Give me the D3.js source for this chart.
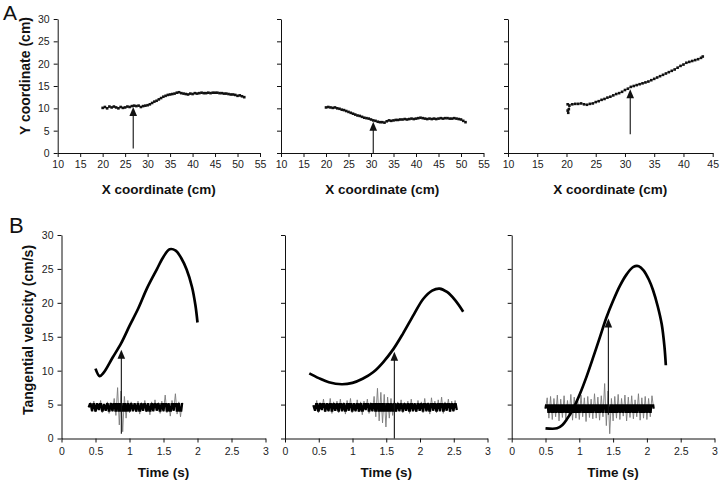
<!DOCTYPE html>
<html>
<head>
<meta charset="utf-8">
<script src="https://cdn.jsdelivr.net/npm/d3@7"></script>
<style>
  body { margin: 0; background: #fff; }
  text { font-family: "Liberation Sans", Arial, Helvetica, sans-serif; }
</style>
</head>
<body>
<script>
var width = 720;
var height = 481;

// ---- data ----
// A: hand path (x, y in cm), one list per trial
var path1 = [[20,10.1],[20.5,10.3],[21,10.0],[21.5,10.4],[22,10.2],[22.5,10.4],[23,10.2],[23.5,10.0],[24,10.3],[24.5,10.1],
  [25,10.2],[25.5,10.4],[26,10.3],[26.5,10.5],[27,10.6],[27.5,10.5],[28,10.6],[28.5,10.3],[29,10.5],[29.5,10.6],
  [30,10.7],[30.5,10.9],[31,11.2],[31.5,11.5],[32,11.7],[32.5,12.0],[33,12.3],[33.5,12.6],[34,12.8],[34.5,13.0],
  [35,13.1],[35.5,13.2],[36,13.3],[36.5,13.5],[37,13.6],[37.5,13.4],[38,13.3],[38.5,13.2],[39,13.1],[39.5,13.3],
  [40,13.2],[40.5,13.4],[41,13.3],[41.5,13.4],[42,13.5],[42.5,13.4],[43,13.4],[43.5,13.5],[44,13.4],[44.5,13.5],
  [45,13.5],[45.5,13.5],[46,13.4],[46.5,13.4],[47,13.3],[47.5,13.3],[48,13.2],[48.5,13.1],[49,13.1],[49.5,13.0],
  [50,12.8],[50.5,12.9],[51,12.7],[51.5,12.5]];
var path2 = [[20,10.2],[20.5,10.3],[21,10.2],[21.5,10.1],[22,10.2],[22.5,10.0],[23,9.9],[23.5,9.7],[24,9.6],[24.5,9.4],
  [25,9.2],[25.5,9.0],[26,8.8],[26.5,8.6],[27,8.4],[27.5,8.3],[28,8.1],[28.5,7.9],[29,7.8],[29.5,7.7],
  [30,7.5],[30.5,7.3],[31,7.2],[31.5,7.0],[32,6.9],[32.5,6.9],[33,6.8],[33.5,7.1],[34,7.3],[34.5,7.2],
  [35,7.3],[35.5,7.4],[36,7.4],[36.5,7.5],[37,7.5],[37.5,7.6],[38,7.5],[38.5,7.6],[39,7.7],[39.5,7.6],
  [40,7.7],[40.5,7.8],[41,7.9],[41.5,7.8],[42,7.7],[42.5,7.6],[43,7.7],[43.5,7.6],[44,7.7],[44.5,7.6],
  [45,7.7],[45.5,7.8],[46,7.7],[46.5,7.8],[47,7.8],[47.5,7.7],[48,7.7],[48.5,7.8],[49,7.7],[49.5,7.6],
  [50,7.5],[50.5,7.2],[51,6.9]];
var path3 = [[20.2,9.5],[20.3,9.0],[20.4,9.8],[20.5,10.6],[20.2,10.9],[21,10.9],[21.5,11.0],[22,11.0],[22.5,11.1],[23,10.9],
  [23.5,10.8],[24,11.0],[24.5,11.1],[25,11.4],[25.5,11.6],[26,11.9],[26.5,12.1],[27,12.4],[27.5,12.6],[28,12.9],
  [28.5,13.2],[29,13.4],[29.5,13.7],[30,14.1],[30.5,14.4],[31,14.8],[31.5,15.0],[32,15.2],[32.5,15.4],[33,15.6],
  [33.5,15.8],[34,16.0],[34.5,16.3],[35,16.6],[35.5,16.9],[36,17.2],[36.5,17.5],[37,17.8],[37.5,18.1],[38,18.4],
  [38.5,18.7],[39,19.1],[39.5,19.5],[40,19.8],[40.5,20.2],[41,20.4],[41.5,20.6],[42,20.8],[42.5,21.0],[43,21.3],[43.3,21.6]];

// A: arrow (x, from y, to y)
var arrowX = [26.8, 30.5, 30.9];
var arrowFromY = [1, 0, 4.2];
var arrowToY = [10.3, 7.0, 14.3];

// B: tangential velocity (t in s, cm/s)
var vel1 = [[0.50,10.3],[0.56,9.2],[0.62,9.7],[0.75,11.9],[0.88,14.1],[1.0,16.6],[1.13,19.2],[1.26,22.2],[1.40,24.9],
  [1.50,26.8],[1.59,27.9],[1.68,27.7],[1.76,26.6],[1.84,24.9],[1.92,22.3],[1.97,19.6],[2.0,17.1]];
var vel2 = [[0.36,9.6],[0.5,8.9],[0.65,8.3],[0.84,8.0],[1.0,8.2],[1.15,8.8],[1.31,9.8],[1.45,11.2],[1.6,13.1],
  [1.75,15.5],[1.91,18.3],[2.05,20.6],[2.18,21.8],[2.29,22.1],[2.4,21.6],[2.52,20.4],[2.64,18.7]];
var vel3 = [[0.5,1.5],[0.67,1.5],[0.75,2.0],[0.82,2.9],[0.9,4.2],[1.01,6.6],[1.11,9.2],[1.21,12.1],[1.31,15.1],
  [1.40,17.8],[1.5,20.3],[1.6,22.5],[1.7,24.2],[1.8,25.3],[1.88,25.4],[1.95,24.8],[2.03,23.4],[2.09,21.9],
  [2.16,19.5],[2.22,16.8],[2.26,13.5],[2.28,10.8]];

// B: EMG trace samples (plotted in cm/s units), start time and step
var emgStart = [0.40, 0.42, 0.50];
var emgStep = 0.025;
var emgBase = [4.6, 4.6, 4.4];
var emg1 = [4.6,5.3,4.0,5.5,3.9,5.2,4.2,5.6,3.8,5.1, 4.1,5.4,3.7,5.3,4.0,5.9,3.4,7.5,2.0,7.0,
  1.0,6.2,3.0,5.6,3.8,5.4,4.0,5.2,3.9,5.5, 3.6,5.3,4.1,5.6,3.9,5.2,3.5,5.4,4.0,5.7,
  4.1,5.3,3.7,5.5,4.0,6.4,3.8,5.2,3.3,5.6, 4.1,6.6,3.6,5.4,3.2,5.3];
var emg2 = [4.9,4.1,5.6,3.8,5.3,4.2,5.8,3.9,5.2,4.0, 5.9,3.7,5.4,4.1,5.5,3.8,5.8,4.0,5.3,3.6,
  5.6,4.1,5.9,3.8,5.2,4.0,5.7,3.9,5.4,3.5, 5.5,4.2,5.8,3.7,5.3,4.0,6.2,3.2,7.4,2.6,
  6.8,2.3,6.5,1.7,6.1,3.0,5.9,3.4,5.6,3.9, 5.4,4.0,5.7,3.8,5.3,4.1,5.5,3.7,5.8,4.0,
  5.2,3.9,5.6,4.1,5.4,3.8,5.9,4.0,5.3,3.6, 6.0,4.1,5.5,3.8,5.7,4.0,6.1,3.7,5.4,4.1,
  5.8,3.9,5.5,4.0,5.6,4.2];
var emg3 = [4.4,6.0,3.0,6.2,2.8,5.9,3.2,6.4,2.6,5.8, 3.1,6.3,2.9,5.6,3.3,6.5,2.7,6.1,3.0,5.9,
  2.8,6.4,3.2,6.0,2.5,6.2,3.1,5.8,2.9,6.6, 3.0,6.1,2.7,6.3,3.2,8.1,1.9,7.0,0.7,5.9,
  2.6,6.2,3.0,6.5,2.8,5.9,3.3,6.4,2.6,6.1, 3.1,6.3,2.9,5.7,3.2,6.6,2.7,6.0,3.0,6.2,
  2.8,5.9,3.2,6.3,4.4];

// B: arrow (t, from v, to v)
var arrowT = [0.88, 1.62, 1.43];
var arrowFromV = [0.7, 0, 3.5];
var arrowToV = [13.1, 12.8, 17.7];

// ticks
var coordTicks = [0, 5, 10, 15, 20, 25, 30];
var xTicksWide = [10, 15, 20, 25, 30, 35, 40, 45, 50, 55];
var xTicksNarrow = [10, 15, 20, 25, 30, 35, 40, 45];
var timeTicks = [0, 0.5, 1, 1.5, 2, 2.5, 3];

// ---- layout ----
var topPanels = [
  { left: 57.7, right: 260, dom: [10, 55], ticks: xTicksWide, path: path1 },
  { left: 281, right: 483.5, dom: [10, 55], ticks: xTicksWide, path: path2 },
  { left: 508, right: 712.7, dom: [10, 45], ticks: xTicksNarrow, path: path3 }
];
var botPanels = [
  { left: 61.5, right: 265.5, vel: vel1, emg: emg1 },
  { left: 285, right: 487.5, vel: vel2, emg: emg2 },
  { left: 511.7, right: 714.5, vel: vel3, emg: emg3 }
];

var svg = d3.select("body").append("svg")
  .attr("width", width).attr("height", height)
  .style("background-color", "#fff");

var fmt = d3.format("");

function styleAxis(g) {
  g.selectAll("path, line").attr("stroke", "#111").attr("stroke-width", 1);
  g.selectAll("text").attr("fill", "#222").style("font-size", "10.5px");
}

function drawArrow(x, y0, y1) {
  svg.append("line")
    .attr("x1", x).attr("x2", x)
    .attr("y1", y0).attr("y2", y1 + 7)
    .attr("stroke", "#111").attr("stroke-width", 1.1);
  svg.append("path")
    .attr("d", "M" + x + "," + y1 + "L" + (x - 3.8) + "," + (y1 + 9) + "L" + (x + 3.8) + "," + (y1 + 9) + "Z")
    .attr("fill", "#111");
}

// ---- A: hand path panels ----
var yTop = d3.scaleLinear().domain([0, 30]).range([153, 19]);

topPanels.forEach(function (p, i) {
  var x = d3.scaleLinear().domain(p.dom).range([p.left, p.right]);

  svg.append("g")
    .attr("transform", "translate(0," + yTop(0) + ")")
    .call(d3.axisBottom(x).tickValues(p.ticks).tickSize(4).tickSizeOuter(0).tickPadding(4).tickFormat(fmt))
    .call(styleAxis);

  svg.append("g")
    .attr("transform", "translate(" + p.left + ",0)")
    .call(d3.axisLeft(yTop).tickValues(coordTicks).tickSize(4).tickSizeOuter(0).tickPadding(4)
      .tickFormat(i === 0 ? fmt : ""))
    .call(styleAxis);

  var line = d3.line().x(function (d) { return x(d[0]); }).y(function (d) { return yTop(d[1]); });
  svg.append("path")
    .datum(p.path)
    .attr("d", line)
    .attr("fill", "none")
    .attr("stroke", "#333")
    .attr("stroke-width", 0.8);

  svg.selectAll(".pt" + i).data(p.path).enter().append("rect")
    .attr("class", "pt" + i)
    .attr("x", function (d) { return x(d[0]) - 1.3; })
    .attr("y", function (d) { return yTop(d[1]) - 1.3; })
    .attr("width", 2.6).attr("height", 2.6)
    .attr("fill", "#111");

  drawArrow(x(arrowX[i]), yTop(arrowFromY[i]), yTop(arrowToY[i]));

  svg.append("text")
    .attr("x", (p.left + p.right) / 2)
    .attr("y", 194)
    .attr("text-anchor", "middle")
    .style("font-size", "13.5px")
    .style("font-weight", "bold")
    .attr("fill", "#111")
    .text("X coordinate (cm)");
});

svg.append("text")
  .attr("transform", "translate(30,76) rotate(-90)")
  .attr("text-anchor", "middle")
  .style("font-size", "14px")
  .style("font-weight", "bold")
  .attr("fill", "#111")
  .text("Y coordinate (cm)");

svg.append("text").attr("x", 3).attr("y", 20)
  .style("font-size", "21px").attr("fill", "#111").text("A");

// ---- B: velocity panels ----
var yBot = d3.scaleLinear().domain([0, 30]).range([438.5, 235]);

botPanels.forEach(function (p, i) {
  var x = d3.scaleLinear().domain([0, 3]).range([p.left, p.right]);

  svg.append("g")
    .attr("transform", "translate(0," + yBot(0) + ")")
    .call(d3.axisBottom(x).tickValues(timeTicks).tickSize(4).tickSizeOuter(0).tickPadding(5).tickFormat(fmt))
    .call(styleAxis);

  svg.append("g")
    .attr("transform", "translate(" + p.left + ",0)")
    .call(d3.axisLeft(yBot).tickValues(coordTicks).tickSize(4).tickSizeOuter(0).tickPadding(4)
      .tickFormat(i === 0 ? fmt : ""))
    .call(styleAxis);

  // EMG: grey full trace, black core clipped to a narrow band
  var emgLine = d3.line()
    .x(function (d, k) { return x(emgStart[i] + k * emgStep); })
    .y(function (d) { return yBot(d); });

  svg.append("clipPath").attr("id", "band" + i)
    .append("rect")
    .attr("x", p.left).attr("width", p.right - p.left)
    .attr("y", yBot(emgBase[i] + 0.65))
    .attr("height", yBot(emgBase[i] - 0.65) - yBot(emgBase[i] + 0.65));

  svg.append("path")
    .datum(p.emg)
    .attr("d", emgLine)
    .attr("fill", "none")
    .attr("stroke", "#7a7a7a")
    .attr("stroke-width", 0.9);

  svg.append("path")
    .datum(p.emg)
    .attr("d", emgLine)
    .attr("clip-path", "url(#band" + i + ")")
    .attr("fill", "none")
    .attr("stroke", "#000")
    .attr("stroke-width", 2.3);

  var velLine = d3.line()
    .curve(d3.curveCatmullRom.alpha(0.5))
    .x(function (d) { return x(d[0]); })
    .y(function (d) { return yBot(d[1]); });

  svg.append("path")
    .datum(p.vel)
    .attr("d", velLine)
    .attr("fill", "none")
    .attr("stroke", "#000")
    .attr("stroke-width", 2.7);

  drawArrow(x(arrowT[i]), yBot(arrowFromV[i]), yBot(arrowToV[i]));

  svg.append("text")
    .attr("x", (p.left + p.right) / 2)
    .attr("y", 477)
    .attr("text-anchor", "middle")
    .style("font-size", "13.5px")
    .style("font-weight", "bold")
    .attr("fill", "#111")
    .text("Time (s)");
});

svg.append("text")
  .attr("transform", "translate(33,330) rotate(-90)")
  .attr("text-anchor", "middle")
  .style("font-size", "14px")
  .style("font-weight", "bold")
  .attr("fill", "#111")
  .text("Tangential velocity (cm/s)");

svg.append("text").attr("x", 9).attr("y", 233)
  .style("font-size", "22px").attr("fill", "#111").text("B");
</script>
</body>
</html>
